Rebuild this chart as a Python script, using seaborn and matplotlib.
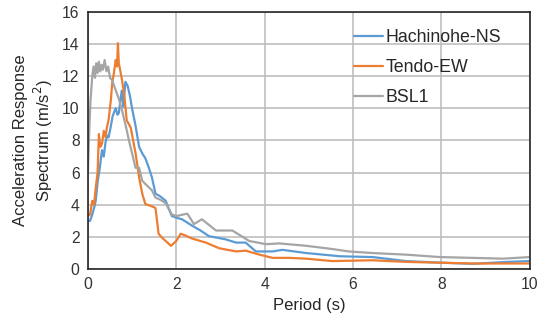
import seaborn as sns
import matplotlib.pyplot as plt
import pandas as pd

# spectra (period in s, acceleration in m/s^2)
hachi_T = [0.0, 0.05, 0.1, 0.15, 0.18, 0.22, 0.27, 0.32, 0.36, 0.4, 0.44, 0.47, 0.52, 0.56, 0.6, 0.63,
           0.67, 0.7, 0.74, 0.77, 0.8, 0.83, 0.85, 0.9, 0.95, 1.0, 1.08, 1.16, 1.23, 1.3, 1.38, 1.45,
           1.53, 1.65, 1.76, 1.9, 2.0, 2.13, 2.36, 2.55, 2.74, 3.12, 3.35, 3.57, 3.8, 4.18, 4.4,
           4.94, 5.7, 6.44, 6.9, 7.2, 8.0, 8.7, 9.5, 10.0]
hachi_A = [3.0, 3.0, 3.4, 3.9, 4.3, 5.4, 6.3, 7.4, 7.0, 7.9, 8.3, 8.2, 8.9, 9.5, 9.8, 10.0,
           9.6, 9.7, 10.6, 11.1, 10.1, 11.0, 11.65, 11.4, 10.8, 10.0, 8.9, 7.6, 7.2, 6.9, 6.3, 5.7,
           4.7, 4.5, 4.25, 3.3, 3.2, 3.1, 2.7, 2.4, 2.05, 1.85, 1.65, 1.65, 1.1, 1.1, 1.2,
           1.0, 0.8, 0.75, 0.6, 0.5, 0.4, 0.33, 0.45, 0.5]

tendo_T = [0.0, 0.05, 0.1, 0.14, 0.18, 0.22, 0.25, 0.28, 0.32, 0.36, 0.4, 0.43, 0.47, 0.52, 0.55,
           0.59, 0.63, 0.66, 0.68, 0.7, 0.73, 0.77, 0.82, 0.88, 0.97, 1.08, 1.16, 1.23, 1.3, 1.45,
           1.53, 1.6, 1.68, 1.88, 2.0, 2.1, 2.2, 2.36, 2.67, 2.97, 3.35, 3.57, 3.88, 4.18, 4.56,
           4.94, 5.53, 6.44, 7.2, 8.7, 10.0]
tendo_A = [3.3, 3.4, 4.25, 4.0, 5.1, 6.0, 8.4, 7.6, 7.8, 8.6, 8.2, 8.8, 9.3, 10.5, 11.55,
           12.2, 13.0, 12.6, 14.05, 12.8, 12.4, 11.8, 10.9, 9.25, 8.8, 7.2, 5.7, 4.7, 4.05, 3.9,
           3.8, 2.2, 1.95, 1.45, 1.75, 2.2, 2.1, 1.9, 1.65, 1.3, 1.1, 1.15, 0.9, 0.7, 0.7,
           0.65, 0.5, 0.55, 0.45, 0.35, 0.35]

bsl_T = [0.0, 0.03, 0.06, 0.1, 0.13, 0.16, 0.19, 0.22, 0.25, 0.28, 0.31, 0.34, 0.38, 0.42, 0.46,
         0.5, 0.55, 0.62, 0.7, 0.77, 0.85, 0.93, 1.0, 1.08, 1.16, 1.23, 1.3, 1.45, 1.53, 1.65,
         1.76, 1.9, 2.0, 2.25, 2.4, 2.58, 2.9, 3.27, 3.65, 4.03, 4.33, 4.94, 5.53, 5.9, 6.44,
         7.2, 7.96, 8.7, 9.4, 10.0]
bsl_A = [6.0, 8.5, 10.5, 12.0, 12.6, 11.9, 12.8, 12.2, 12.9, 12.3, 12.7, 12.4, 13.0, 12.3, 12.6,
         11.9, 11.75, 11.2, 10.6, 9.9, 9.0, 8.0, 7.2, 6.3, 6.3, 5.5, 5.3, 4.9, 4.45, 4.3,
         4.1, 3.4, 3.3, 3.45, 2.8, 3.1, 2.4, 2.4, 1.75, 1.55, 1.6, 1.45, 1.25, 1.1, 1.0,
         0.9, 0.75, 0.7, 0.65, 0.75]

names = ["Hachinohe-NS", "Tendo-EW", "BSL1"]
colors = ["#5B9BD5", "#ED7D31", "#A5A5A5"]

df = pd.concat([
    pd.DataFrame({"Period": hachi_T, "Acc": hachi_A, "Wave": names[0]}),
    pd.DataFrame({"Period": tendo_T, "Acc": tendo_A, "Wave": names[1]}),
    pd.DataFrame({"Period": bsl_T, "Acc": bsl_A, "Wave": names[2]}),
])

sns.set_theme(style="whitegrid")
plt.rcParams["font.family"] = ["Liberation Sans", "DejaVu Sans"]

fig = plt.figure(figsize=(5.39, 3.29), dpi=100)
ax = fig.add_axes([0.163, 0.182, 0.82, 0.782])

sns.lineplot(data=df, x="Period", y="Acc", hue="Wave", palette=colors,
             hue_order=names, linewidth=1.6, sort=False, estimator=None, ax=ax)

ax.set_xlim(0, 10)
ax.set_ylim(0, 16)
ax.set_xticks(range(0, 11, 2))
ax.set_yticks(range(0, 17, 2))
ax.grid(True, color="#BFBFBF", linewidth=1.2)
for s in ax.spines.values():
    s.set_color("#262626")
    s.set_linewidth(1.2)
ax.tick_params(labelsize=11.3, colors="#333333", length=0, pad=6)
ax.set_xlabel("Period (s)", fontsize=12, color="#262626")
ax.set_ylabel("Acceleration Response\nSpectrum (m/s$^2$)", fontsize=12, color="#262626", labelpad=5)

ax.legend(loc="upper right", bbox_to_anchor=(0.971, 0.995), frameon=False, fontsize=12.8,
          handlelength=1.6, handletextpad=0.15, labelspacing=0.72)

fig.savefig("out.png", dpi=100)
